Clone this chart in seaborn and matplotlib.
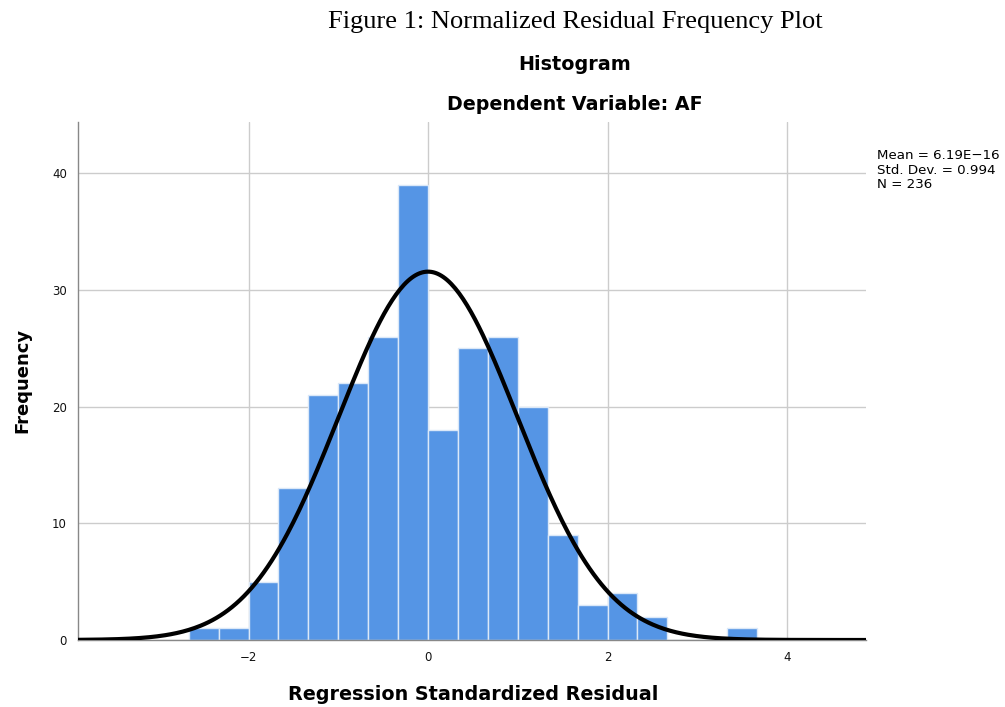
import numpy as np
import pandas as pd
import seaborn as sns
import matplotlib.pyplot as plt

# histogram of regression standardized residuals (bin width 1/3)
bin_edges = list(np.arange(-8, 12) / 3.0)    # -2.67 ... 3.67
counts = [1, 1, 5, 13, 21, 22, 26, 39, 18, 25, 26, 20, 9, 3, 4, 2, 0, 0, 1]
mean_val = 6.19e-16
std_val = 0.994
n_obs = 236

x_ticks = [-2, 0, 2, 4]
y_ticks = [0, 10, 20, 30, 40]

bar_color = '#5595e5'

sns.set_theme(style='white')
plt.rcParams['font.family'] = ['DejaVu Sans']
plt.rcParams['text.color'] = 'black'

fig = plt.figure(figsize=(10.05, 7.07), dpi=100)
ax = fig.add_axes([78 / 1005, 1 - 640 / 707, (866 - 78) / 1005, (640 - 122) / 707])

edges = np.array(bin_edges)
centers = (edges[:-1] + edges[1:]) / 2
df = pd.DataFrame({'resid': centers, 'count': counts})
sns.histplot(data=df, x='resid', weights='count', bins=bin_edges, ax=ax,
             color=bar_color, alpha=1, edgecolor='#dbe8f8', linewidth=1, zorder=2)

# fitted normal curve, scaled to counts
width = edges[1] - edges[0]
xs = np.linspace(-3.9, 4.88, 400)
ys = n_obs * width * np.exp(-0.5 * ((xs - mean_val) / std_val) ** 2) / (std_val * np.sqrt(2 * np.pi))
sns.lineplot(x=xs, y=ys, ax=ax, color='black', linewidth=3, zorder=3)

ax.set_xlim(-3.9, 4.88)
ax.set_ylim(0, 44.4)
ax.set_xticks(x_ticks)
ax.set_xticklabels(['\u22122', '0', '2', '4'])
ax.set_yticks(y_ticks)
ax.grid(True, color='#cccccc', linewidth=1, zorder=0)
ax.set_axisbelow(True)
ax.tick_params(length=0, labelsize=8.5, colors='#111111', pad=8)
for s in ['top', 'right']:
    ax.spines[s].set_visible(False)
for s in ['left', 'bottom']:
    ax.spines[s].set_color('#888888')
    ax.spines[s].set_linewidth(1)
ax.set_xlabel('')
ax.set_ylabel('')

fig.text(22 / 1005, 1 - 380 / 707, 'Frequency', rotation=90, ha='center', va='center',
         fontsize=13, fontweight='bold')
fig.text(473 / 1005, 1 - 694 / 707, 'Regression Standardized Residual', ha='center', va='center',
         fontsize=13.8, fontweight='bold')
fig.text(575 / 1005, 1 - 22 / 707, 'Figure 1: Normalized Residual Frequency Plot', ha='center',
         va='center', fontsize=19, family=['Liberation Serif'])
fig.text(575 / 1005, 1 - 65 / 707, 'Histogram', ha='center', va='center',
         fontsize=13.8, fontweight='bold')
fig.text(575 / 1005, 1 - 105 / 707, 'Dependent Variable: AF', ha='center', va='center',
         fontsize=13.7, fontweight='bold')
fig.text(877 / 1005, 1 - 149 / 707,
         'Mean = 6.19E\u221216\nStd. Dev. = 0.994\nN = 236',
         ha='left', va='top', fontsize=9.6, linespacing=1.15)

fig.savefig('out.png', dpi=100)
